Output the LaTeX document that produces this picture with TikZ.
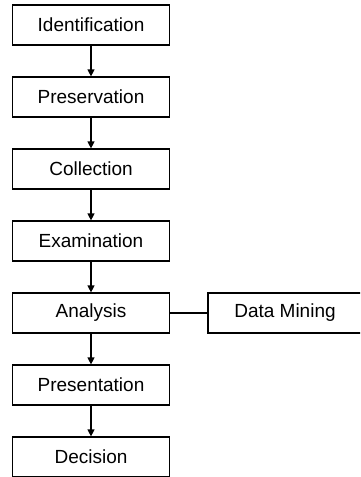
\documentclass[tikz,border=0pt]{standalone}
\usepackage{fontspec}
\setmainfont{Liberation Sans}
\usetikzlibrary{positioning,arrows.meta}

\begin{document}
\begin{tikzpicture}[x=1pt,y=1pt,node distance=72pt,on grid,
   stage/.style={rectangle, draw, line width=1.2pt, minimum width=157pt,
      minimum height=40pt, inner sep=0pt, font=\fontsize{19}{23}\selectfont}]
   \useasboundingbox (0,0) rectangle (360,-477);
   \clip (0,0) rectangle (360,-477);
   \node[stage] (ident) at (91,-25) {Identification};
   \node[stage] (preserve) [below=of ident]    {Preservation};
   \node[stage] (collect)  [below=of preserve] {Collection};
   \node[stage] (examine)  [below=of collect]  {Examination};
   \node[stage] (analyse)  [below=of examine]  {Analysis};
   \node[stage] (present)  [below=of analyse]  {Presentation};
   \node[stage] (decide)   [below=of present]  {Decision};

   \node[stage, minimum width=154pt] (mining) [right=194pt of analyse] {Data Mining};
    \path[-{Triangle[length=7pt,width=7pt]}, line width=1.2pt]
    (ident)    edge (preserve)
    (preserve) edge (collect)
    (collect)  edge (examine)
    (examine)  edge (analyse)
    (analyse)  edge (present)
    (present)  edge (decide);
    \draw[line width=1.2pt] (analyse) -- (mining);
\end{tikzpicture}
\end{document}
